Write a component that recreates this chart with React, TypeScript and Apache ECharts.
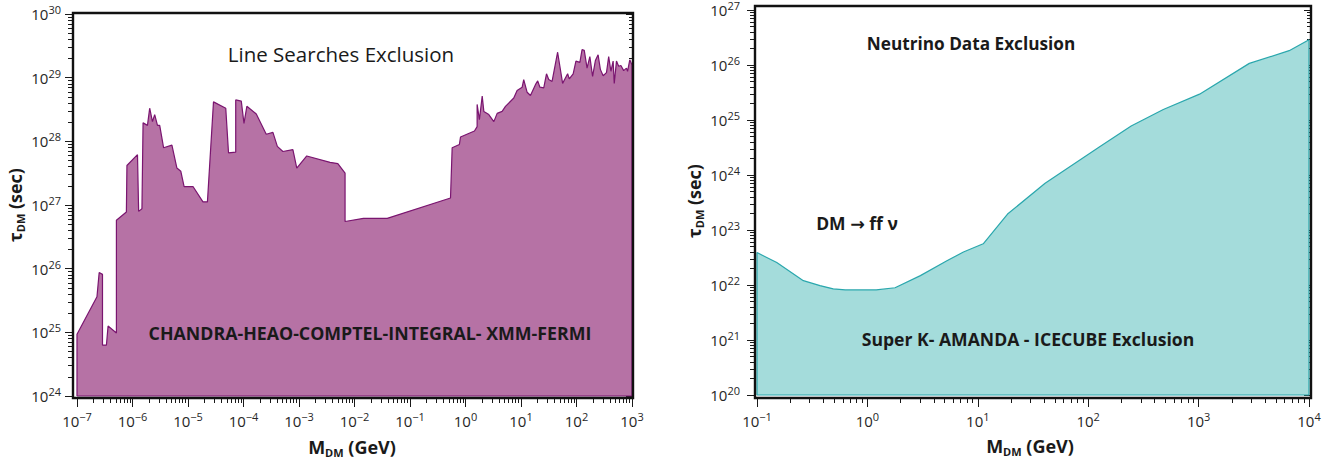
import React, { useEffect, useRef } from 'react';
import * as echarts from 'echarts';

// ---------- data ----------
// Left panel: line-search exclusion (mass in GeV, lifetime in sec)
const lineMass = [
  1e-7, 2.29e-7, 2.51e-7, 2.88e-7, 2.88e-7, 3.39e-7, 3.63e-7, 5.13e-7, 5.13e-7, 7.76e-7,
  7.94e-7, 1.23e-6, 1.29e-6, 1.48e-6, 1.55e-6, 1.86e-6, 2.04e-6, 2.29e-6, 2.51e-6, 2.82e-6,
  3.09e-6, 3.63e-6, 5.13e-6, 6.31e-6, 7.41e-6, 8.51e-6, 1.23e-5, 1.86e-5, 2.24e-5, 2.88e-5,
  4.79e-5, 5.37e-5, 7.24e-5, 7.24e-5, 9.12e-5, 1.02e-4, 1.15e-4, 1.70e-4, 2.57e-4, 3.39e-4,
  4.07e-4, 5.13e-4, 7.76e-4, 9.12e-4, 1.38e-3, 3.63e-3, 5.01e-3, 6.76e-3, 6.76e-3, 1.45e-2,
  3.89e-2, 0.537, 0.575, 0.776, 0.813, 1.45, 1.62, 1.62, 1.78, 2.0,
  2.14, 2.63, 3.24, 3.72, 4.57, 5.25, 7.41, 8.51, 10.5, 11.2,
  12.9, 14.8, 18.2, 20.0, 21.9, 25.7, 28.8, 31.6, 36.3, 45.7,
  56.2, 69.2, 74.1, 87.1, 97.7, 115, 126, 138, 155, 174,
  195, 219, 245, 269, 302, 347, 380, 417, 457, 479,
  525, 575, 631, 708, 794, 832, 912, 1000,
];
const lineTau = [
  9.33e24, 3.63e25, 8.71e25, 8.13e25, 6.31e24, 6.31e24, 1.26e25, 9.77e24, 5.75e26, 7.76e26,
  4.17e27, 6.17e27, 7.94e26, 8.71e26, 1.95e28, 1.78e28, 3.31e28, 2.04e28, 2.63e28, 1.78e28,
  1.78e28, 7.94e27, 8.71e27, 3.8e27, 3.39e27, 1.95e27, 1.95e27, 1.12e27, 1.12e27, 4.17e28,
  3.31e28, 6.61e27, 6.76e27, 4.47e28, 4.27e28, 1.91e28, 3.55e28, 2.69e28, 1.29e28, 1.38e28,
  8.32e27, 6.92e27, 7.41e27, 3.8e27, 5.89e27, 4.68e27, 4.47e27, 3.16e27, 5.5e26, 6.17e26,
  6.17e26, 1.29e27, 7.94e27, 8.91e27, 1.17e28, 1.45e28, 1.7e28, 3.8e28, 2.19e28, 5.13e28,
  2.95e28, 2.63e28, 2.04e28, 2.75e28, 2.95e28, 3.55e28, 4.79e28, 6.31e28, 7.08e28, 9.33e28,
  5.89e28, 5.25e28, 7.76e28, 8.91e28, 7.08e28, 6.92e28, 1.15e29, 9.33e28, 8.71e28, 2.51e29,
  8.13e28, 1.15e29, 9.55e28, 1.15e29, 1.82e29, 1.74e29, 2.75e29, 2.69e29, 1.41e29, 2.14e29,
  1.05e29, 1.86e29, 2.29e29, 1.35e29, 1.07e29, 1.2e29, 2.14e29, 1.26e29, 1.82e29, 8.13e28,
  1.82e29, 1.51e29, 1.55e29, 1.29e29, 1.41e29, 1.26e29, 1.91e29, 1.58e29,
];
// Right panel: neutrino data exclusion
const nuMass = [0.1, 0.151, 0.263, 0.372, 0.49, 0.631, 1.2, 1.78, 3.02, 5.25, 7.41, 11.2, 18.6, 40.7, 126, 245, 479, 1020, 2880, 6610, 10000];
const nuTau = [3.89e22, 2.57e22, 1.2e22, 9.77e21, 8.51e21, 8.13e21, 8.13e21, 8.91e21, 1.48e22, 2.75e22, 3.98e22, 5.62e22, 1.95e23, 7.08e23, 3.24e24, 7.76e24, 1.55e25, 2.95e25, 1.07e26, 1.82e26, 2.88e26];

// tick exponents (labels are 10^n)
const leftXExp = [-7, -6, -5, -4, -3, -2, -1, 0, 1, 2, 3];
const leftYExp = [24, 25, 26, 27, 28, 29, 30];
const rightXExp = [-1, 0, 1, 2, 3, 4];
const rightYExp = [20, 21, 22, 23, 24, 25, 26, 27];

// ---------- styling ----------
const FONT = '"Open Sans", "DejaVu Sans", sans-serif';
const TXT = '#1a1a1a';
const TICK_LS = { color: '#1a1a1a', width: 1 };

function supLabel(v: number) {
  const e = Math.round(v);
  const s = e < 0 ? '\u2212' + Math.abs(e) : String(e);
  return '{b|10}{sup|' + s + '}';
}
const labelRich = {
  b: { fontSize: 15, fontFamily: FONT, color: '#262626', lineHeight: 20 },
  sup: { fontSize: 11, fontFamily: FONT, color: '#262626', lineHeight: 12, verticalAlign: 'top' },
};

function minorValues(exps: number[]) {
  const out: number[] = [];
  for (let i = 0; i < exps.length - 1; i++) {
    for (let k = 2; k <= 9; k++) out.push(exps[i] + Math.log10(k));
  }
  return out;
}

type PanelCfg = {
  grid: { left: number; top: number; width: number; height: number };
  xExp: number[];
  yExp: number[];
  xOff: number;
  yOffL: number;
  yOffR: number;
  mass: number[];
  tau: number[];
  fill: string;
  stroke: string;
  yLabelMargin: number;
};

function buildPanel(gi: number, p: PanelCfg) {
  const xMin = p.xExp[0];
  const xMax = p.xExp[p.xExp.length - 1];
  const yMin = p.yExp[0];
  const yMax = p.yExp[p.yExp.length - 1];
  const xMinor = minorValues(p.xExp);
  const yMinor = minorValues(p.yExp);
  const baseAxis = {
    gridIndex: gi, type: 'value', interval: 1,
    axisLine: { show: false, onZero: false }, splitLine: { show: false },
  };
  const xAxes = [
    {
      ...baseAxis, min: xMin, max: xMax, position: 'bottom', offset: p.xOff,
      axisTick: { show: true, length: 9, customValues: p.xExp, lineStyle: TICK_LS },
      axisLabel: { show: true, customValues: p.xExp, formatter: supLabel, margin: 13, rich: labelRich },
    },
    {
      ...baseAxis, min: xMin, max: xMax, position: 'bottom', offset: p.xOff,
      axisTick: { show: true, length: 5, customValues: xMinor, lineStyle: TICK_LS },
      axisLabel: { show: false },
    },
  ];
  const yAxes = [
    {
      ...baseAxis, min: yMin, max: yMax, position: 'left', offset: p.yOffL,
      axisTick: { show: true, length: 8, customValues: p.yExp, lineStyle: TICK_LS },
      axisLabel: { show: true, customValues: p.yExp, formatter: supLabel, margin: p.yLabelMargin, rich: labelRich },
    },
    {
      ...baseAxis, min: yMin, max: yMax, position: 'left', offset: p.yOffL,
      axisTick: { show: true, length: 5, customValues: yMinor, lineStyle: TICK_LS },
      axisLabel: { show: false },
    },
    {
      ...baseAxis, min: yMin, max: yMax, position: 'right', offset: p.yOffR,
      axisTick: { show: true, inside: true, length: 7, customValues: p.yExp, lineStyle: TICK_LS },
      axisLabel: { show: false },
    },
    {
      ...baseAxis, min: yMin, max: yMax, position: 'right', offset: p.yOffR,
      axisTick: { show: true, inside: true, length: 4, customValues: yMinor, lineStyle: TICK_LS },
      axisLabel: { show: false },
    },
  ];
  const pts: number[][] = [[xMin, yMin]];
  for (let i = 0; i < p.mass.length; i++) pts.push([Math.log10(p.mass[i]), Math.log10(p.tau[i])]);
  pts.push([xMax, yMin]);
  pts.push([xMin, yMin]);
  const series = {
    type: 'line',
    xAxisIndex: gi * 2,
    yAxisIndex: gi * 4,
    data: pts,
    symbol: 'none',
    showSymbol: false,
    clip: false,
    lineStyle: { color: p.stroke, width: 1.2 },
    areaStyle: { color: p.fill, opacity: 1, origin: 'start' },
    silent: true,
  };
  const g = p.grid;
  const frame = {
    type: 'rect',
    z: 50,
    shape: { x: g.left - p.yOffL, y: g.top - 1, width: g.width + p.yOffL + p.yOffR, height: g.height + 1 + p.xOff },
    style: { fill: 'none', stroke: '#111', lineWidth: 2.4 },
  };
  return { grid: { ...g, containLabel: false }, xAxes, yAxes, series, frame };
}

function titleText(x: number, y: number, text: string, size: number, weight: string) {
  return {
    type: 'text', x, y, z: 100,
    style: { text, fill: TXT, font: `${weight} ${size}px ${FONT}`, align: 'center', verticalAlign: 'middle' },
  };
}

const titleRich = {
  a: { fontFamily: FONT, fontWeight: 'bold', fontSize: 18, fill: TXT, color: TXT, lineHeight: 22 },
  s: { fontFamily: FONT, fontWeight: 'bold', fontSize: 11, fill: TXT, color: TXT, lineHeight: 14, verticalAlign: 'bottom' },
};

function massTitle(x: number, y: number) {
  return {
    type: 'text', x, y, z: 100,
    style: { text: '{a|M}{s|DM}{a| (GeV)}', align: 'center', verticalAlign: 'middle', rich: titleRich },
  };
}

function tauTitle(x: number, y: number) {
  return {
    type: 'text', x, y, z: 100, rotation: Math.PI / 2,
    style: { text: '{a|\u03c4}{s|DM}{a| (sec)}', align: 'center', verticalAlign: 'middle', rich: titleRich },
  };
}

export default function App() {
  const ref = useRef<HTMLDivElement>(null);
  useEffect(() => {
    if (!ref.current) return;
    const chart = echarts.init(ref.current, undefined, { renderer: 'svg' });
    const left = buildPanel(0, {
      grid: { left: 77, top: 14, width: 555, height: 382 },
      xExp: leftXExp, yExp: leftYExp, xOff: 2, yOffL: 4, yOffR: 1,
      mass: lineMass, tau: lineTau, fill: '#b672a5', stroke: '#7a1570', yLabelMargin: 12,
    });
    const right = buildPanel(1, {
      grid: { left: 757, top: 7, width: 552, height: 388 },
      xExp: rightXExp, yExp: rightYExp, xOff: 3, yOffL: 2, yOffR: 2,
      mass: nuMass, tau: nuTau, fill: '#a4dcdb', stroke: '#2aa7ad', yLabelMargin: 15,
    });
    chart.setOption({
      animation: false,
      backgroundColor: '#ffffff',
      textStyle: { fontFamily: FONT },
      grid: [left.grid, right.grid],
      xAxis: [...left.xAxes, ...right.xAxes],
      yAxis: [...left.yAxes, ...right.yAxes],
      series: [left.series, right.series],
      graphic: [
        left.frame,
        right.frame,
        titleText(341, 54, 'Line Searches Exclusion', 20.5, 'normal'),
        titleText(370, 333, 'CHANDRA-HEAO-COMPTEL-INTEGRAL- XMM-FERMI', 17.8, 'bold'),
        massTitle(352, 447),
        tauTitle(15, 205),
        titleText(971, 43, 'Neutrino Data Exclusion', 17.2, 'bold'),
        titleText(857, 223, 'DM \u2192 ff \u03bd', 17.5, 'bold'),
        titleText(1028, 339, 'Super K- AMANDA - ICECUBE Exclusion', 17.6, 'bold'),
        massTitle(1030, 446),
        tauTitle(694, 201),
      ],
    });
    return () => chart.dispose();
  }, []);
  return (
    <div
      ref={ref}
      style={{ position: 'fixed', left: 0, top: 0, width: 1337, height: 461, background: '#fff' }}
    />
  );
}
